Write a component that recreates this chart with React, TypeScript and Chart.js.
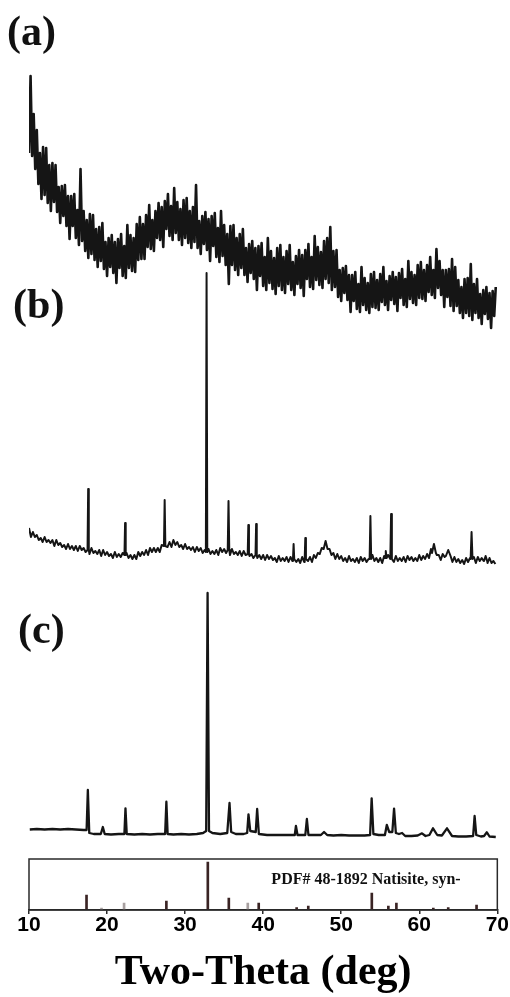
import React, { useEffect, useRef } from "react";
import { Chart, registerables } from "chart.js";

Chart.register(...registerables);

// ---- pattern (a): amorphous sample, recorded every 0.2 deg from 10 deg ----
const A_START = 10;
const A_STEP = 0.2;
const patternA = [
  706, 783, 703, 745, 690, 729, 675, 706, 660, 712,
  664, 711, 656, 694, 648, 696, 657, 694, 647, 672,
  636, 673, 643, 674, 633, 663, 620, 663, 633, 665,
  621, 649, 614, 690, 618, 648, 608, 639, 601, 645,
  605, 644, 599, 630, 592, 632, 598, 636, 590, 617,
  583, 621, 592, 624, 586, 617, 576, 620, 591, 625,
  583, 613, 581, 634, 591, 624, 588, 621, 587, 635,
  599, 642, 600, 635, 600, 644, 612, 654, 610, 639,
  608, 648, 621, 656, 619, 652, 612, 658, 630, 665,
  623, 653, 619, 671, 626, 657, 619, 650, 614, 659,
  621, 661, 616, 648, 611, 652, 617, 674, 611, 638,
  605, 643, 615, 647, 609, 640, 598, 643, 613, 646,
  602, 631, 597, 648, 603, 634, 594, 625, 575, 633,
  594, 634, 589, 621, 584, 625, 591, 630, 584, 611,
  577, 615, 586, 618, 580, 611, 569, 613, 583, 616,
  573, 602, 569, 621, 576, 608, 570, 601, 565, 611,
  573, 614, 569, 602, 566, 608, 575, 614, 569, 597,
  564, 603, 575, 609, 571, 604, 563, 609, 580, 615,
  572, 602, 570, 623, 579, 612, 574, 607, 571, 618,
  580, 621, 576, 632, 569, 608, 572, 609, 562, 589,
  558, 591, 566, 593, 559, 584, 547, 584, 558, 587,
  550, 575, 547, 592, 554, 581, 549, 576, 546, 585,
  552, 587, 551, 579, 549, 585, 557, 592, 554, 578,
  549, 583, 559, 587, 555, 582, 548, 586, 561, 590,
  554, 580, 552, 598, 560, 587, 556, 584, 554, 594,
  561, 597, 560, 589, 558, 594, 567, 602, 564, 589,
  561, 610, 571, 598, 564, 589, 552, 589, 562, 590,
  553, 600, 548, 592, 553, 579, 546, 572, 541, 580,
  546, 581, 543, 595, 539, 575, 546, 580, 541, 565,
  535, 569, 545, 572, 540, 566, 531, 568, 543, 572,
];

// ---- pattern (b): background every 0.25 deg + reflections ----
const B_START = 10;
const B_STEP = 0.25;
const baselineB = [
  331, 322, 327, 322, 324, 319, 321, 317, 322, 317, 319, 316,
  319, 313, 319, 314, 316, 312, 314, 310, 315, 310, 313, 309,
  313, 308, 313, 309, 311, 307, 310, 305, 311, 306, 308, 305,
  309, 303, 309, 304, 307, 303, 305, 301, 307, 302, 305, 302,
  306, 300, 306, 301, 304, 300, 304, 300, 307, 303, 307, 304,
  309, 304, 311, 307, 311, 307, 311, 307, 314, 310, 314, 312,
  317, 312, 319, 314, 317, 312, 314, 310, 315, 310, 312, 309,
  312, 307, 312, 308, 311, 306, 309, 304, 310, 305, 308, 305,
  309, 304, 311, 307, 310, 306, 309, 304, 310, 305, 307, 304,
  308, 303, 308, 304, 307, 303, 305, 301, 307, 301, 304, 300,
  304, 299, 304, 300, 303, 299, 301, 297, 303, 298, 301, 298,
  302, 297, 302, 298, 301, 297, 300, 296, 302, 297, 300, 298,
  302, 297, 304, 301, 306, 305, 311, 310, 318, 310, 310, 304,
  306, 300, 305, 300, 303, 298, 301, 297, 303, 298, 300, 297,
  301, 296, 302, 298, 301, 297, 300, 297, 304, 298, 301, 297,
  301, 296, 303, 300, 304, 299, 301, 297, 303, 298, 301, 298,
  302, 297, 303, 299, 302, 298, 301, 298, 304, 299, 303, 300,
  305, 301, 310, 310, 313, 304, 304, 299, 305, 302, 308, 305,
  305, 297, 302, 297, 300, 296, 299, 295, 301, 297, 301, 299,
  302, 296, 302, 298, 301, 298, 302, 296, 301, 296, 298, 295,
];
// [two-theta, peak top, local background, half width at base]
const peaksB: [number, number, number, number][] = [
  [17.58, 370, 309, 0.08], [22.31, 336, 304, 0.08], [27.38, 359, 313, 0.09],
  [32.75, 586, 307, 0.09], [35.56, 358, 309, 0.1], [38.1, 334, 305, 0.08],
  [39.1, 335, 304, 0.08], [43.9, 315, 300, 0.08], [45.4, 321, 300, 0.08],
  [53.74, 343, 300, 0.1], [55.71, 308, 301, 0.1], [56.39, 345, 300, 0.1],
  [61.88, 315, 306, 0.25], [63.71, 309, 303, 0.3], [66.7, 327, 300, 0.12],
  [68.5, 303, 298, 0.2],
];

// ---- pattern (c): [two-theta, intensity] ----
const patternC: [number, number][] = [
  [10.1, 29.5], [11, 30], [12, 29.5], [13, 30], [14, 29.5], [15, 30], [16, 29.5],
  [17, 29], [17.38, 29], [17.54, 69], [17.72, 26], [18.3, 25], [19.2, 25], [19.46, 32],
  [19.7, 25], [20.5, 24.5], [21.5, 25], [22.22, 25], [22.36, 50.7], [22.52, 25],
  [23.5, 24.5], [24.5, 25], [25.5, 24.5], [26.5, 25], [27.44, 25], [27.6, 57.3],
  [27.76, 25], [28.5, 24.5], [29.5, 25], [30.5, 24.5], [31.5, 25], [32.3, 26],
  [32.7, 28], [32.88, 266], [33.06, 28], [33.5, 26], [34.5, 25], [35.4, 26],
  [35.69, 56], [35.9, 27], [36.5, 25], [37.5, 25], [37.95, 26], [38.12, 44.7],
  [38.35, 28], [39.05, 27], [39.23, 50], [39.45, 25], [40.5, 24], [41.5, 24],
  [42.5, 24], [43.5, 24], [44.05, 24], [44.2, 33], [44.4, 24], [45.4, 24],
  [45.6, 40], [45.8, 24], [46.5, 24], [47.4, 24], [47.8, 27], [48.2, 24],
  [49, 23.5], [50, 24], [51, 23.5], [52, 23.5], [53, 23.5], [53.7, 24],
  [53.9, 60.7], [54.12, 25], [54.8, 24], [55.6, 24], [55.84, 34], [56.15, 27],
  [56.55, 27], [56.77, 50.3], [57.0, 26], [57.4, 25], [57.8, 26], [58.2, 23],
  [59, 23], [59.8, 23.5], [60.35, 25.7], [60.8, 23], [61.3, 24], [61.76, 30.7],
  [62.3, 24], [62.9, 23.5], [63.55, 30.7], [64.2, 23], [65, 22.5], [66, 22.5],
  [66.9, 23], [67.09, 43], [67.3, 24], [67.9, 22.5], [68.3, 23], [68.66, 26.7],
  [69.0, 22.5], [69.8, 22],
];

// ---- reference card PDF# 48-1892: [two-theta, stick height] ----
const refSticks: [number, number][] = [
  [17.37, 15], [19.29, 2], [22.18, 7], [27.6, 9], [32.91, 48], [35.6, 12],
  [38.03, 7], [39.43, 7], [44.29, 2.5], [45.78, 4], [53.92, 17], [56.04, 4],
  [57.07, 7], [61.8, 2], [63.71, 2.5], [67.34, 5],
];
const refShade = ["d", "l", "l", "d", "d", "d", "l", "d", "d", "d", "d", "d", "d", "d", "d", "d"];

const PANEL_DEPTH = 51;
const Y_MAX = 859;
const PANEL_TEXT = "PDF# 48-1892 Natisite, syn-";
const PANEL_TEXT_AT: [number, number] = [41.05, -25];
const traceLabels = [
  { text: "(a)", x: 7.19, y: 814 },
  { text: "(b)", x: 7.96, y: 541 },
  { text: "(c)", x: 8.6, y: 216 },
];

function gridSeries(start: number, step: number, values: number[]) {
  return values.map((y, i) => ({ x: +(start + i * step).toFixed(3), y }));
}

function withPeaks(base: { x: number; y: number }[], peaks: [number, number, number, number][]) {
  const keep = base.filter((p) => !peaks.some(([px, , , hw]) => Math.abs(p.x - px) < hw + 0.05));
  const extra: { x: number; y: number }[] = [];
  for (const [px, top, bg, hw] of peaks) {
    extra.push({ x: px - hw, y: bg }, { x: px, y: top }, { x: px + hw, y: bg });
  }
  const all = keep.concat(extra);
  all.sort((a, b) => a.x - b.x);
  return all;
}

const panelPlugin = {
  id: "panelPlugin",
  afterDatasetsDraw(chart: any) {
    const { ctx, chartArea, scales } = chart;
    const xs = scales.x;
    const ys = scales.y;
    const top = ys.getPixelForValue(0);
    const bottom = ys.getPixelForValue(-PANEL_DEPTH);
    ctx.save();
    ctx.strokeStyle = "#2a2a2a";
    ctx.lineWidth = 1.5;
    ctx.strokeRect(chartArea.left, top, chartArea.right - chartArea.left, bottom - top);
    ctx.fillStyle = "#111";
    ctx.textAlign = "left";
    ctx.textBaseline = "alphabetic";
    ctx.font = 'bold 16px "Liberation Serif"';
    ctx.fillText(PANEL_TEXT, xs.getPixelForValue(PANEL_TEXT_AT[0]), ys.getPixelForValue(PANEL_TEXT_AT[1]));
    ctx.font = 'bold 42px "Liberation Serif"';
    for (const l of traceLabels) {
      ctx.fillText(l.text, xs.getPixelForValue(l.x), ys.getPixelForValue(l.y));
    }
    ctx.restore();
  },
};

export default function App() {
  const ref = useRef<HTMLCanvasElement | null>(null);
  useEffect(() => {
    document.body.style.margin = "0";
    if (!ref.current) return;
    const dataA = gridSeries(A_START, A_STEP, patternA);
    const dataB = withPeaks(gridSeries(B_START, B_STEP, baselineB), peaksB);
    const dataC = patternC.map(([x, y]) => ({ x, y }));
    const sticks = refSticks.map(([x, h]) => ({ x, y: [-PANEL_DEPTH, -PANEL_DEPTH + h] }));
    const lineStyle = {
      type: "line" as const,
      borderColor: "#151515",
      pointRadius: 0,
      tension: 0,
      borderJoinStyle: "round" as const,
      fill: false,
    };
    const chart = new Chart(ref.current, {
      type: "line",
      data: {
        datasets: [
          { ...lineStyle, label: "(a)", data: dataA, borderWidth: 2.6 },
          { ...lineStyle, label: "(b)", data: dataB, borderWidth: 2 },
          { ...lineStyle, label: "(c)", data: dataC, borderWidth: 2.3 },
          {
            type: "bar",
            label: "PDF# 48-1892",
            data: sticks as any,
            backgroundColor: refShade.map((s) => (s === "l" ? "#a8a0a0" : "#3a2424")),
            barThickness: 2,
          } as any,
        ],
      },
      options: {
        animation: false,
        responsive: true,
        maintainAspectRatio: false,
        layout: { padding: { left: 29, right: 11, top: 0, bottom: 0 } },
        plugins: { legend: { display: false }, tooltip: { enabled: false } },
        scales: {
          x: {
            type: "linear",
            min: 10,
            max: 70,
            offset: false,
            ticks: {
              stepSize: 10,
              maxRotation: 0,
              padding: 1,
              color: "#000",
              font: { family: "Liberation Sans", size: 21, weight: "bold", lineHeight: 1 },
            },
            grid: {
              display: true,
              offset: false,
              drawOnChartArea: false,
              drawTicks: true,
              tickLength: 4,
              color: "#2a2a2a",
              lineWidth: 1.5,
            },
            border: { display: true, color: "#2a2a2a", width: 1.5 },
            title: {
              display: true,
              text: "Two-Theta (deg)",
              color: "#000",
              font: { family: "Liberation Serif", size: 42, weight: "bold", lineHeight: 1 },
              padding: { top: 15, bottom: 3 },
            },
          },
          y: {
            type: "linear",
            display: false,
            min: -PANEL_DEPTH,
            max: Y_MAX,
          },
        },
      },
      plugins: [panelPlugin],
    });
    return () => chart.destroy();
  }, []);
  return (
    <div style={{ position: "absolute", left: 0, top: 0, width: 510, height: 997 }}>
      <canvas ref={ref} />
    </div>
  );
}
